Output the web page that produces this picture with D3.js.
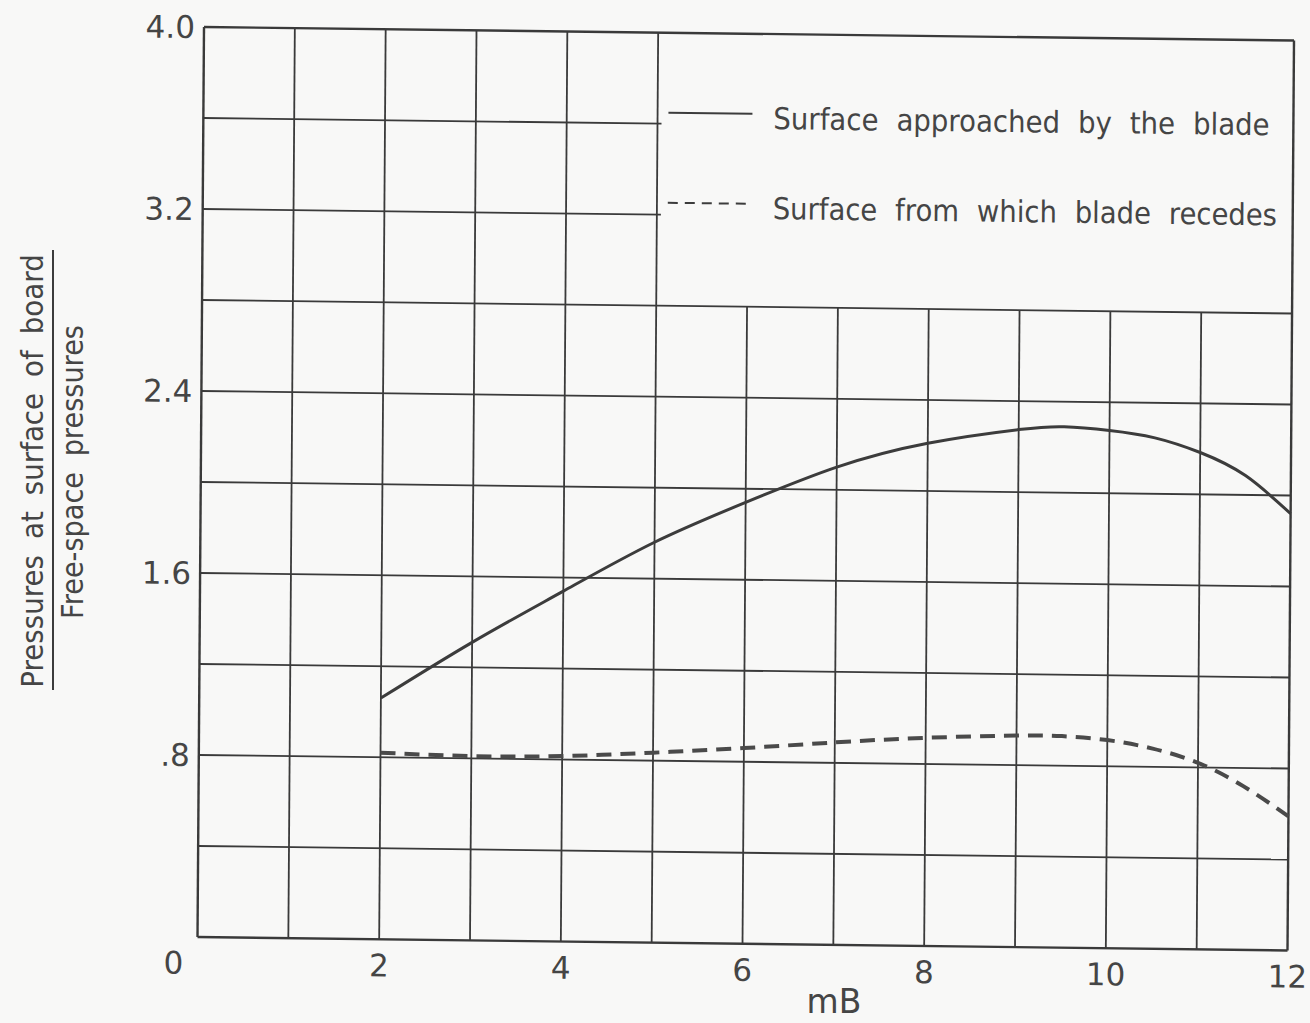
<!DOCTYPE html>
<html>
<head>
<meta charset="utf-8">
<script src="https://cdn.jsdelivr.net/npm/d3@7"></script>
<style>
  html, body { margin: 0; padding: 0; background: #f8f8f7; }
  svg { display: block; }
  text { font-family: "DejaVu Sans", sans-serif; fill: #454545; }
</style>
</head>
<body>
<script>
// ---- data ----
const xTicks = [0, 1, 2, 3, 4, 5, 6, 7, 8, 9, 10, 11, 12];
const xTickLabels = ["0", "2", "4", "6", "8", "10", "12"];
const xTickLabelValues = [0, 2, 4, 6, 8, 10, 12];
const yTicks = [0, 0.4, 0.8, 1.2, 1.6, 2.0, 2.4, 2.8, 3.2, 3.6, 4.0];
const yTickLabels = [".8", "1.6", "2.4", "3.2", "4.0"];
const yTickLabelValues = [0.8, 1.6, 2.4, 3.2, 4.0];

const mB = [2, 3, 4, 5, 6, 7, 8, 9, 9.5, 10, 10.5, 11, 11.5, 12];
const approached = [1.06, 1.31, 1.54, 1.76, 1.94, 2.10, 2.21, 2.275, 2.29, 2.276, 2.246, 2.184, 2.085, 1.92];
const recedes = [0.82, 0.81, 0.815, 0.835, 0.86, 0.89, 0.915, 0.93, 0.93, 0.915, 0.88, 0.82, 0.72, 0.59];

const legendLabels = ["Surface approached by the blade", "Surface from which blade recedes"];
const yTitleTop = "Pressures at surface of board";
const yTitleBottom = "Free-space pressures";
const xTitle = "mB";

// ---- layout ----
const width = 1310, height = 1023;
const W = 1090, H = 910;

const svg = d3.select("body").append("svg")
  .attr("width", width).attr("height", height);
svg.append("rect").attr("width", width).attr("height", height).attr("fill", "#f8f8f7");

// the scanned sheet is slightly skewed
const g = svg.append("g").attr("transform", "matrix(1,0.01239,-0.00714,1,204,27)");

const x = d3.scaleLinear().domain([0, 12]).range([0, W]);
const y = d3.scaleLinear().domain([0, 4]).range([H, 0]);

const gridColor = "#3a3a3a";

// legend box region: x 5..12, y 2.8..4.0 has no inner grid
const legendX0 = 5, legendY0 = 2.8;

// vertical grid lines
g.append("g").selectAll("line").data(xTicks).join("line")
  .attr("x1", d => x(d)).attr("x2", d => x(d))
  .attr("y1", d => (d > legendX0 && d < 12) ? y(legendY0) : y(4))
  .attr("y2", y(0))
  .attr("stroke", gridColor)
  .attr("stroke-width", d => (d === 0 || d === 12) ? 2.4 : 1.8);

// horizontal grid lines
g.append("g").selectAll("line").data(yTicks).join("line")
  .attr("y1", d => y(d)).attr("y2", d => y(d))
  .attr("x1", x(0))
  .attr("x2", d => (d > legendY0 + 0.01 && d < 3.99) ? x(legendX0) + 4 : x(12))
  .attr("stroke", gridColor)
  .attr("stroke-width", d => (d === 0 || d === 4) ? 2.4 : 1.8);

// tick labels
g.append("g").selectAll("text").data(yTickLabelValues).join("text")
  .attr("x", -9).attr("y", d => y(d)).attr("dy", "0.36em")
  .attr("text-anchor", "end").attr("font-size", 31)
  .text((d, i) => yTickLabels[i]);

g.append("g").selectAll("text").data(xTickLabelValues).join("text")
  .attr("x", d => x(d) + (d === 0 ? -24 : 0)).attr("y", H + 37)
  .attr("text-anchor", "middle").attr("font-size", 31)
  .text((d, i) => xTickLabels[i]);

// curves
const line = d3.line()
  .x((d, i) => x(mB[i]))
  .y(d => y(d))
  .curve(d3.curveNatural);

g.append("path").datum(approached)
  .attr("d", line).attr("fill", "none")
  .attr("stroke", "#3c3c3c").attr("stroke-width", 3);

g.append("path").datum(recedes)
  .attr("d", line).attr("fill", "none")
  .attr("stroke", "#4a4a4a").attr("stroke-width", 4)
  .attr("stroke-dasharray", "15,9");

// legend
const legend = g.append("g");
const legendRows = [
  { label: legendLabels[0], dash: null, ly: 80, ty: 95, sx: 0.92 },
  { label: legendLabels[1], dash: "10,7", ly: 170, ty: 185, sx: 0.915 }
];
legendRows.forEach(r => {
  legend.append("line")
    .attr("x1", 465).attr("x2", 549).attr("y1", r.ly).attr("y2", r.ly)
    .attr("stroke", "#3c3c3c").attr("stroke-width", 2)
    .attr("stroke-dasharray", r.dash);
  legend.append("text")
    .attr("transform", `translate(570,${r.ty}) scale(${r.sx},1)`)
    .attr("font-size", 30)
    .attr("word-spacing", 10)
    .text(r.label);
});

// y title (fraction)
svg.append("text")
  .attr("transform", "translate(43,471) rotate(-90) scale(0.894,1)")
  .attr("text-anchor", "middle").attr("font-size", 31)
  .attr("word-spacing", 8)
  .text(yTitleTop);
svg.append("line")
  .attr("x1", 53).attr("x2", 53).attr("y1", 250).attr("y2", 690)
  .attr("stroke", "#3c3c3c").attr("stroke-width", 2);
svg.append("text")
  .attr("transform", "translate(83,472) rotate(-90) scale(0.876,1)")
  .attr("text-anchor", "middle").attr("font-size", 31)
  .attr("word-spacing", 8)
  .text(yTitleBottom);

// x title
svg.append("text")
  .attr("x", 834).attr("y", 1013)
  .attr("text-anchor", "middle").attr("font-size", 33)
  .text(xTitle);
</script>
</body>
</html>
